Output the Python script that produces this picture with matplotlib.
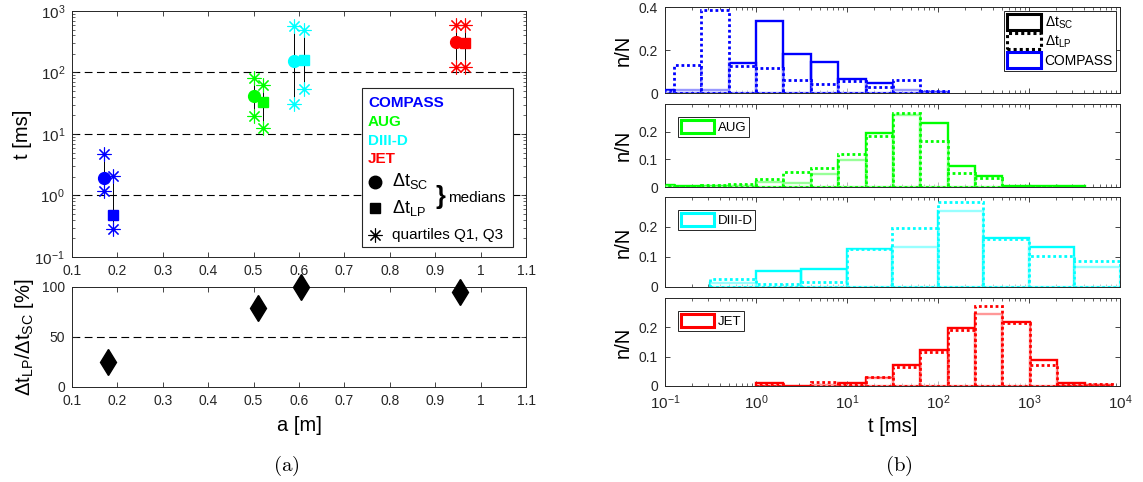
import numpy as np
import matplotlib
matplotlib.use('Agg')
import matplotlib.pyplot as plt
from matplotlib.patches import Patch, Rectangle

plt.rcParams['font.family'] = ['Liberation Sans', 'DejaVu Sans']
plt.rcParams['mathtext.fontset'] = 'custom'
plt.rcParams['mathtext.rm'] = 'Liberation Sans'
plt.rcParams['mathtext.it'] = 'Liberation Sans:italic'
plt.rcParams['mathtext.bf'] = 'Liberation Sans:bold'
plt.rcParams['axes.edgecolor'] = '#262626'
plt.rcParams['axes.linewidth'] = 0.7
plt.rcParams['xtick.color'] = '#262626'
plt.rcParams['ytick.color'] = '#262626'

# ---- data: medians / quartiles vs minor radius ----
devices = ['COMPASS', 'AUG', 'DIII-D', 'JET']
colors = ['#0000ff', '#00ff00', '#00ffff', '#ff0000']
a_sc = [0.17, 0.50, 0.59, 0.945]
a_lp = [0.19, 0.52, 0.61, 0.965]
med_sc = [1.95, 42, 155, 310]
q1_sc = [1.17, 19.6, 31, 124]
q3_sc = [4.8, 81, 575, 590]
med_lp = [0.48, 33, 159, 297]
q1_lp = [0.29, 12.4, 53, 124]
q3_lp = [2.07, 62, 490, 590]

ratio_a = [0.18, 0.51, 0.605, 0.955]
ratio = [25, 79, 100, 95]

# ---- data: histograms (bin edges in ms, fractions n/N) ----
compass_edges = [0.0625, 0.125, 0.25, 0.5, 1, 2, 4, 8, 16, 32, 64, 128]
compass_sc = [0.016, 0.015, 0.015, 0.14, 0.335, 0.18, 0.145, 0.064, 0.046, 0.015, 0.004]
compass_lp = [0.016, 0.13, 0.385, 0.125, 0.118, 0.062, 0.042, 0.058, 0.027, 0.062, 0.008]

aug_edges = [0.0625, 0.125, 0.25, 0.5, 1, 2, 4, 8, 16, 32, 64, 128, 256, 512, 1024, 2048, 4096]
aug_sc = [0.007, 0.003, 0.003, 0.005, 0.018, 0.015, 0.046, 0.097, 0.195, 0.26, 0.23, 0.076, 0.041, 0.002, 0.005, 0.002]
aug_lp = [0.007, 0.005, 0.007, 0.010, 0.028, 0.053, 0.069, 0.119, 0.184, 0.267, 0.166, 0.051, 0.032, 0.001, 0.002, 0.001]

diiid_edges = [0.316, 1, 3.16, 10, 31.6, 100, 316, 1000, 3162, 10000]
diiid_sc = [0.013, 0.052, 0.060, 0.128, 0.134, 0.254, 0.162, 0.134, 0.068]
diiid_lp = [0.028, 0.010, 0.017, 0.126, 0.197, 0.283, 0.160, 0.102, 0.086]

jet_edges = [1, 2, 4, 8, 16, 32, 64, 128, 256, 512, 1024, 2048, 4096, 8192]
jet_sc = [0.010, 0.001, 0.005, 0.010, 0.028, 0.071, 0.124, 0.196, 0.246, 0.217, 0.087, 0.009, 0.003]
jet_lp = [0.007, 0.001, 0.012, 0.007, 0.031, 0.064, 0.117, 0.190, 0.271, 0.215, 0.073, 0.005, 0.008]

hist_edges = [compass_edges, aug_edges, diiid_edges, jet_edges]
hist_sc = [compass_sc, aug_sc, diiid_sc, jet_sc]
hist_lp = [compass_lp, aug_lp, diiid_lp, jet_lp]

a_ticks = [0.1, 0.2, 0.3, 0.4, 0.5, 0.6, 0.7, 0.8, 0.9, 1.0, 1.1]
a_ticklabels = ['0.1', '0.2', '0.3', '0.4', '0.5', '0.6', '0.7', '0.8', '0.9', '1', '1.1']

fig = plt.figure(figsize=(11.43, 4.82), dpi=100)

def style(ax):
    ax.tick_params(which='both', direction='in', top=True, right=True, labelsize=10)
    ax.tick_params(which='major', length=3.5, width=0.6, pad=5)
    ax.tick_params(which='minor', length=2, width=0.5)

# ---- (a) top: times vs a ----
ax1 = fig.add_axes([0.063, 0.4668, 0.3972, 0.5104])
ax1.set_yscale('log')
for y in [1, 10, 100]:
    ax1.axhline(y, color='k', lw=0.8, ls=(0, (7, 4)), zorder=1)
star = (8, 2, 0)
for i in range(4):
    c = colors[i]
    ax1.plot([a_sc[i], a_sc[i]], [q1_sc[i], q3_sc[i]], color='k', lw=0.7, zorder=2)
    ax1.plot([a_lp[i], a_lp[i]], [q1_lp[i], q3_lp[i]], color='k', lw=0.7, zorder=2)
    ax1.plot([a_sc[i], a_sc[i]], [q1_sc[i], q3_sc[i]], ls='none', marker=star, ms=10, mew=0.8, color=c, zorder=3)
    ax1.plot([a_lp[i], a_lp[i]], [q1_lp[i], q3_lp[i]], ls='none', marker=star, ms=10, mew=0.8, color=c, zorder=3)
    ax1.plot(a_sc[i], med_sc[i], 'o', ms=8.5, color=c, zorder=4)
    ax1.plot(a_lp[i], med_lp[i], 's', ms=7.5, color=c, zorder=4)
ax1.set_xlim(0.1, 1.1)
ax1.set_ylim(0.1, 1000)
ax1.set_xticks(a_ticks)
ax1.set_xticklabels(a_ticklabels)
ax1.set_ylabel('t [ms]', fontsize=14.5, labelpad=2)
style(ax1)
ax1.tick_params(axis='y', labelsize=11)

# hand-made legend box
ax1.add_patch(Rectangle((0.639, 0.041), 0.332, 0.646, transform=ax1.transAxes,
                        facecolor='white', edgecolor='#262626', lw=0.8, zorder=5))
for i, (name, ty) in enumerate(zip(devices, [0.626, 0.549, 0.472, 0.398])):
    ax1.text(0.652, ty, name, color=colors[i], fontsize=11, fontweight='bold',
             transform=ax1.transAxes, va='center', zorder=6)
ax1.plot(0.667, 0.305, 'o', ms=9, color='k', transform=ax1.transAxes, zorder=6)
ax1.plot(0.667, 0.199, 's', ms=7.5, color='k', transform=ax1.transAxes, zorder=6)
ax1.plot(0.667, 0.089, marker=star, ms=10, mew=0.8, color='k', transform=ax1.transAxes, zorder=6)
ax1.text(0.705, 0.31, r'Δt$_\mathregular{SC}$', fontsize=13, transform=ax1.transAxes, va='center', zorder=6)
ax1.text(0.705, 0.20, r'Δt$_\mathregular{LP}$', fontsize=13, transform=ax1.transAxes, va='center', zorder=6)
ax1.text(0.800, 0.245, '}', fontsize=18, fontweight='bold', transform=ax1.transAxes, va='center', zorder=6)
ax1.text(0.828, 0.24, 'medians', fontsize=11, transform=ax1.transAxes, va='center', zorder=6)
ax1.text(0.705, 0.089, 'quartiles Q1, Q3', fontsize=11, transform=ax1.transAxes, va='center', zorder=6)

# ---- (a) bottom: ratio ----
ax2 = fig.add_axes([0.063, 0.1971, 0.3972, 0.2075])
ax2.axhline(50, color='k', lw=0.8, ls=(0, (7, 4)), zorder=1)
ax2.plot(ratio_a, ratio, 'kd', ms=13, clip_on=False, zorder=3)
ax2.set_xlim(0.1, 1.1)
ax2.set_ylim(0, 100)
ax2.set_yticks([0, 50, 100])
ax2.set_xticks(a_ticks)
ax2.set_xticklabels(a_ticklabels)
ax2.set_xlabel('a [m]', fontsize=14.5, labelpad=6)
ax2.set_ylabel(r'Δt$_\mathregular{LP}$/Δt$_\mathregular{SC}$ [%]', fontsize=14.5, labelpad=4)
style(ax2)

# ---- (b) histograms ----
rects = [[0.5818, 0.807, 0.398, 0.1784],
         [0.5818, 0.612, 0.398, 0.172],
         [0.5818, 0.4046, 0.398, 0.1867],
         [0.5818, 0.1992, 0.398, 0.1826]]
for k in range(4):
    ax = fig.add_axes(rects[k])
    e = np.array(hist_edges[k])
    w = np.diff(e)
    c = colors[k]
    ax.bar(e[:-1], hist_sc[k], width=w, align='edge', facecolor='none', edgecolor=c, lw=1.7, zorder=2)
    ax.bar(e[:-1], hist_lp[k], width=w, align='edge', facecolor=(1, 1, 1, 0.6), edgecolor=c,
           lw=2.0, ls=(0, (1, 1)), zorder=3)
    ax.set_xscale('log')
    ax.set_xlim(0.1, 1e4)
    if k == 0:
        ax.set_ylim(0, 0.4)
        ax.set_yticks([0, 0.2, 0.4])
        ax.set_yticklabels(['0', '0.2', '0.4'])
        h = [Patch(facecolor='white', edgecolor='k', lw=2.2),
             Patch(facecolor='white', edgecolor='k', lw=2.2, ls=(0, (1, 1))),
             Patch(facecolor='white', edgecolor=c, lw=2.2)]
        lab = [r'Δt$_\mathregular{SC}$', r'Δt$_\mathregular{LP}$', devices[k]]
        leg = ax.legend(h, lab, loc='upper right', fontsize=10, fancybox=False, framealpha=1,
                        edgecolor='#262626', handlelength=2.4, handleheight=1.4, borderpad=0.2,
                        labelspacing=0.15, handletextpad=0.3, borderaxespad=0.3)
    else:
        ax.set_ylim(0, 0.3)
        ax.set_yticks([0, 0.1, 0.2])
        ax.set_yticklabels(['0', '0.1', '0.2'])
        h = [Patch(facecolor='white', edgecolor=c, lw=2.2)]
        leg = ax.legend(h, [devices[k]], loc='upper left', fontsize=9.5, fancybox=False, framealpha=1,
                        edgecolor='#262626', handlelength=2.5, handleheight=1.2, borderpad=0.2,
                        handletextpad=0.3, borderaxespad=1.0)
    leg.get_frame().set_linewidth(0.7)
    ax.set_ylabel('n/N', fontsize=14.5, labelpad=4)
    style(ax)
    if k < 3:
        ax.tick_params(labelbottom=False)
    else:
        ax.set_xlabel('t [ms]', fontsize=14.5, labelpad=4)
        ax.tick_params(axis='x', labelsize=11)

fig.text(0.2505, 0.033, r'$\mathrm{(a)}$', fontsize=15, ha='center', va='center', math_fontfamily='cm')
fig.text(0.786, 0.033, r'$\mathrm{(b)}$', fontsize=15, ha='center', va='center', math_fontfamily='cm')

fig.savefig('out.png', dpi=100)
